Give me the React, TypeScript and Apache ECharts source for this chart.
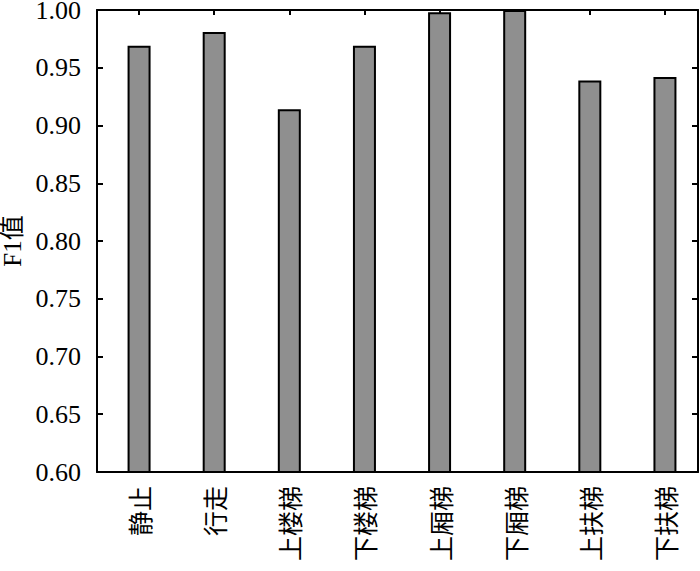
import React, { useEffect, useRef } from "react";
import * as echarts from "echarts";

const categories = ["静止", "行走", "上楼梯", "下楼梯", "上厢梯", "下厢梯", "上扶梯", "下扶梯"];
const f1Values = [0.969, 0.981, 0.914, 0.969, 0.998, 1.0, 0.939, 0.942];
const yTicks = { min: 0.6, max: 1.0, interval: 0.05 };
const positions = categories.map((_, i) => i);

export default function App() {
  const ref = useRef<HTMLDivElement>(null);
  useEffect(() => {
    if (!ref.current) return;
    const chart = echarts.init(ref.current, null, { renderer: "svg" });
    const serif = "Liberation Serif";
    const mixed = "Liberation Serif, Noto Sans CJK SC";
    const cjk = "Noto Sans CJK SC";
    const lineStyle = { color: "#000", width: 2 };
    chart.setOption({
      animation: false,
      backgroundColor: "#fff",
      textStyle: { fontFamily: serif },
      grid: {
        left: 97,
        right: 2,
        top: 10,
        bottom: 99,
        containLabel: false,
        outerBoundsMode: "none",
      },
      xAxis: [
        {
          type: "value",
          position: "bottom",
          min: -0.56,
          max: 7.44,
          splitLine: { show: false },
          axisLine: { show: true, onZero: false, lineStyle },
          axisTick: { show: false },
          axisLabel: {
            customValues: positions,
            formatter: (v: number) => categories[Math.round(v)] ?? "",
            rotate: 90,
            margin: 14,
            color: "#000",
            fontSize: 25,
            fontFamily: cjk,
          },
        },
        {
          type: "value",
          position: "top",
          min: -0.56,
          max: 7.44,
          splitLine: { show: false },
          axisLine: { show: true, onZero: false, lineStyle },
          axisTick: { show: true, inside: true, length: 5, lineStyle, customValues: positions },
          axisLabel: { show: false, customValues: positions },
        },
      ],
      yAxis: [
        {
          type: "value",
          position: "left",
          min: yTicks.min,
          max: yTicks.max,
          interval: yTicks.interval,
          name: "F1值",
          nameLocation: "middle",
          nameGap: 70,
          nameTextStyle: { color: "#000", fontSize: 25, fontFamily: mixed },
          splitLine: { show: false },
          axisLine: { show: true, onZero: false, lineStyle },
          axisTick: { show: true, inside: true, length: 6, lineStyle },
          axisLabel: {
            color: "#000",
            fontSize: 26,
            fontFamily: serif,
            margin: 16,
            formatter: (v: number) => v.toFixed(2),
          },
        },
        {
          type: "value",
          position: "right",
          min: yTicks.min,
          max: yTicks.max,
          interval: yTicks.interval,
          splitLine: { show: false },
          axisLine: { show: true, onZero: false, lineStyle },
          axisTick: { show: true, inside: true, length: 6, lineStyle },
          axisLabel: { show: false },
        },
      ],
      series: [
        {
          type: "bar",
          xAxisIndex: 0,
          yAxisIndex: 0,
          barWidth: 23,
          data: f1Values.map((v, i) => [positions[i], v]),
          itemStyle: { color: "#8f8f8f", borderColor: "#000", borderWidth: 2 },
        },
      ],
    });
    return () => chart.dispose();
  }, []);
  return (
    <div
      ref={ref}
      style={{ position: "fixed", left: 0, top: 0, width: 700, height: 571 }}
    />
  );
}
